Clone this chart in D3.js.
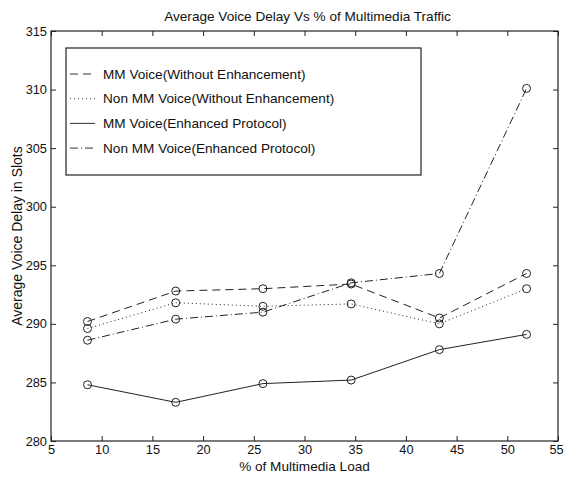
<!DOCTYPE html>
<html>
<head>
<meta charset="utf-8" />
<title>Average Voice Delay</title>
<script src="https://cdn.jsdelivr.net/npm/d3@7"></script>
<style>
    body { margin: 0; background: #fff; }
    text { font-family: "Liberation Sans", Arial, Helvetica, sans-serif; fill: #111; }
</style>
</head>
<body>
<script>
    // data
    var load = [8.6, 17.3, 25.9, 34.6, 43.3, 51.9]
    var mmWithout = [290.2, 292.8, 293.0, 293.4, 290.5, 294.3]
    var nonMmWithout = [289.6, 291.8, 291.5, 291.7, 290.0, 293.0]
    var mmEnhanced = [284.8, 283.3, 284.9, 285.2, 287.8, 289.1]
    var nonMmEnhanced = [288.6, 290.4, 291.0, 293.5, 294.3, 310.1]
    var xTicks = [5, 10, 15, 20, 25, 30, 35, 40, 45, 50, 55]
    var yTicks = [280, 285, 290, 295, 300, 305, 310, 315]

    var series = [
        { name: "MM Voice(Without Enhancement)", values: mmWithout, dash: "8,5" },
        { name: "Non MM Voice(Without Enhancement)", values: nonMmWithout, dash: "1,3" },
        { name: "MM Voice(Enhanced Protocol)", values: mmEnhanced, dash: null },
        { name: "Non MM Voice(Enhanced Protocol)", values: nonMmEnhanced, dash: "8,3,1,3" }
    ]

    var W = 564, H = 478
    var plot = { left: 51, right: 558, top: 31, bottom: 441 }
    var FONT = "13.6px", TICK_FONT = "12.8px"

    var svg = d3.select("body").append("svg")
        .attr("width", W)
        .attr("height", H)

    var x = d3.scaleLinear().domain([5, 55]).range([plot.left, plot.right])
    var y = d3.scaleLinear().domain([280, 315]).range([plot.bottom, plot.top])

    // box
    svg.append("rect")
        .attr("x", plot.left).attr("y", plot.top)
        .attr("width", plot.right - plot.left)
        .attr("height", plot.bottom - plot.top)
        .attr("fill", "none").attr("stroke", "#222").attr("stroke-width", 1.2)

    // axes, ticks pointing inside like matlab
    var tickLen = 5
    svg.append("g")
        .attr("transform", "translate(0," + plot.bottom + ")")
        .call(d3.axisBottom(x).tickValues(xTicks).tickSizeInner(-tickLen).tickSizeOuter(0).tickPadding(4))
        .call(g => g.select(".domain").remove())
        // last label sits at the page edge, pull it in a bit
        .call(g => g.selectAll(".tick text").filter(d => d == 55).attr("dx", -2))
    svg.append("g")
        .attr("transform", "translate(0," + plot.top + ")")
        .call(d3.axisTop(x).tickValues(xTicks).tickSizeInner(-tickLen).tickSizeOuter(0).tickFormat(""))
        .call(g => g.select(".domain").remove())
    svg.append("g")
        .attr("transform", "translate(" + plot.left + ",0)")
        .call(d3.axisLeft(y).tickValues(yTicks).tickSizeInner(-tickLen).tickSizeOuter(0).tickPadding(4))
        .call(g => g.select(".domain").remove())
    svg.append("g")
        .attr("transform", "translate(" + plot.right + ",0)")
        .call(d3.axisRight(y).tickValues(yTicks).tickSizeInner(-tickLen).tickSizeOuter(0).tickFormat(""))
        .call(g => g.select(".domain").remove())

    svg.selectAll(".tick line").attr("stroke", "#222")
    svg.selectAll(".tick text")
        .style("font-family", "'Liberation Sans', Arial, sans-serif")
        .style("font-size", TICK_FONT)
        .attr("fill", "#111")

    // title and labels
    svg.append("text")
        .attr("x", (plot.left + plot.right) / 2 + 3)
        .attr("y", 21)
        .attr("text-anchor", "middle")
        .style("font-size", FONT)
        .text("Average Voice Delay Vs % of Multimedia Traffic")
    svg.append("text")
        .attr("x", (plot.left + plot.right) / 2)
        .attr("y", 471)
        .attr("text-anchor", "middle")
        .style("font-size", FONT)
        .text("% of Multimedia Load")
    svg.append("text")
        .attr("transform", "translate(22," + ((plot.top + plot.bottom) / 2) + ") rotate(-90)")
        .attr("text-anchor", "middle")
        .style("font-size", "14px")
        .text("Average Voice Delay in Slots")

    // lines and markers
    var line = d3.line()
        .x((d, i) => x(load[i]))
        .y(d => y(d))

    series.forEach(function (s) {
        svg.append("path")
            .datum(s.values)
            .attr("d", line)
            .attr("fill", "none")
            .attr("stroke", "#222")
            .attr("stroke-width", 1)
            .attr("stroke-dasharray", s.dash)
        svg.selectAll(null)
            .data(s.values)
            .enter().append("circle")
            .attr("cx", (d, i) => x(load[i]))
            .attr("cy", d => y(d))
            .attr("r", 4)
            .attr("fill", "none")
            .attr("stroke", "#222")
            .attr("stroke-width", 1)
    })

    // legend
    var legend = { x: 66, y: 48, w: 355, h: 127, rowTop: 74, rowGap: 24.7 }
    svg.append("rect")
        .attr("x", legend.x).attr("y", legend.y)
        .attr("width", legend.w).attr("height", legend.h)
        .attr("fill", "#fff").attr("stroke", "#222").attr("stroke-width", 1.2)

    var rows = svg.selectAll(".legend-row")
        .data(series)
        .enter().append("g")
        .attr("class", "legend-row")
        .attr("transform", (d, i) => "translate(0," + (legend.rowTop + i * legend.rowGap) + ")")
    rows.append("line")
        .attr("x1", legend.x + 4).attr("x2", legend.x + 29)
        .attr("y1", 0).attr("y2", 0)
        .attr("stroke", "#333")
        .attr("stroke-width", 1)
        .attr("stroke-dasharray", d => d.dash)
    rows.append("text")
        .attr("x", legend.x + 37)
        .attr("y", 0)
        .attr("dy", "0.35em")
        .style("font-size", FONT)
        .text(d => d.name)
</script>
</body>
</html>
